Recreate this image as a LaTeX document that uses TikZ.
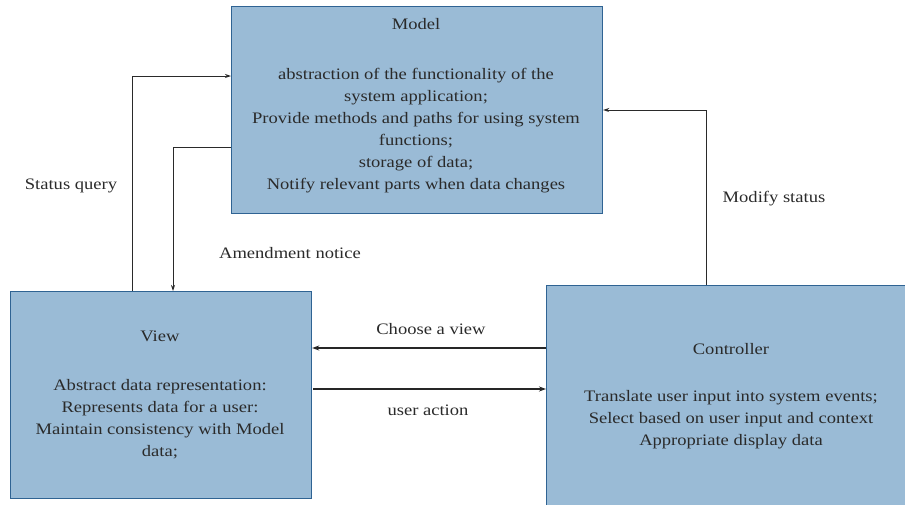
\documentclass[tikz,border=0pt]{standalone}
\usepackage{fontspec}
\setmainfont{Liberation Serif}[FakeStretch=1.16]
\usetikzlibrary{arrows.meta}
\definecolor{boxfill}{HTML}{9ABBD6}
\definecolor{boxline}{HTML}{2F6393}
\definecolor{inkgray}{HTML}{2A2A2A}
\tikzset{
  block/.style={draw=boxline, line width=1.2pt, fill=boxfill, inner sep=0pt, anchor=north west},
  txt/.style={text=inkgray, align=center, inner sep=0pt, anchor=base, font=\fontsize{16}{22}\selectfont},
  link/.style={draw=inkgray, line width=0.9pt, -{Stealth[length=6pt,width=4pt]}},
  thick link/.style={draw=black!85, line width=1.8pt, -{Stealth[length=7pt,width=5pt]}}
}
\begin{document}
\begin{tikzpicture}[x=1pt,y=-1pt]
\useasboundingbox (0,0) rectangle (905,504);

% boxes
\node[block, minimum width=371pt, minimum height=207pt] (model) at (231,6) {};
\node[block, minimum width=301pt, minimum height=207pt] (view) at (10,291) {};
\node[block, minimum width=370pt, minimum height=230pt] (ctrl) at (546,285) {};

% box texts (anchored at the baseline of their last line)
\node[txt] (modelhead) at (416,29) {Model};
\node[txt] (modelbody) at (416,189) {abstraction of the functionality of the\\system application;\\Provide methods and paths for using system\\functions;\\storage of data;\\Notify relevant parts when data changes};
\node[txt] (viewhead) at (160,341) {View};
\node[txt] (viewbody) at (160,456) {Abstract data representation:\\Represents data for a user:\\Maintain consistency with Model\\data;};
\node[txt] (ctrlhead) at (731,354) {Controller};
\node[txt] (ctrlbody) at (731,445) {Translate user input into system events;\\Select based on user input and context\\Appropriate display data};

% connector corners
\coordinate (sqbot) at (132,291);
\coordinate (sqtop) at (132,76);
\coordinate (amtop) at (173,147);
\coordinate (msbot) at (706,285);
\coordinate (mstop) at (706,110);

\draw[link] (sqbot) -- (sqtop) -- (sqtop -| model.west);
\draw[link] (model.west |- amtop) -- (amtop) -- (amtop |- view.north);
\draw[link] (msbot) -- (mstop) -- (mstop -| model.east);
\draw[thick link] (ctrl.west |- 0,348) -- (view.east |- 0,348);
\draw[thick link] (313,389) -- (ctrl.west |- 0,389);

% connector labels
\node[txt] (sqlabel) at (71,189) {Status query};
\node[txt] (amlabel) at (290,258) {Amendment notice};
\node[txt] (mslabel) at (774,202) {Modify status};
\node[txt] (cvlabel) at (431,334) {Choose a view};
\node[txt] (ualabel) at (428,415) {user action};
\end{tikzpicture}
\end{document}
